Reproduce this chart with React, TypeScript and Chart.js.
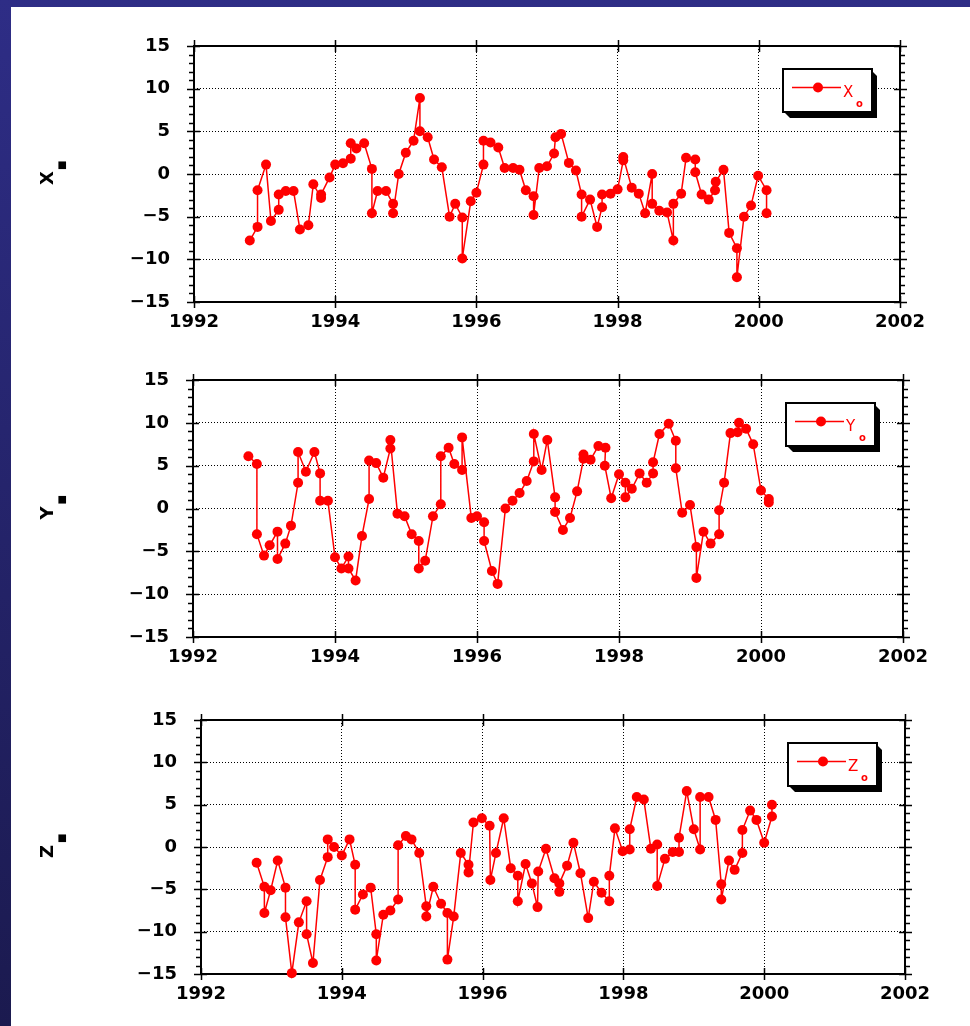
import { useEffect, useRef } from "react";
import { Chart, registerables } from "chart.js";

Chart.register(...registerables);

// ---------- data ----------
const xTimes = [
  1992.79, 1992.9, 1992.9, 1993.02, 1993.09, 1993.2, 1993.2, 1993.3, 1993.41, 1993.5,
  1993.62, 1993.69, 1993.8, 1993.8, 1993.92, 1994.0, 1994.11, 1994.22, 1994.22, 1994.3,
  1994.41, 1994.52, 1994.52, 1994.6, 1994.72, 1994.82, 1994.82, 1994.9, 1995.0, 1995.11,
  1995.2, 1995.2, 1995.31, 1995.4, 1995.51, 1995.62, 1995.7, 1995.8, 1995.8, 1995.92,
  1996.0, 1996.1, 1996.1, 1996.2, 1996.31, 1996.4, 1996.52, 1996.61, 1996.7, 1996.81,
  1996.81, 1996.89, 1997.0, 1997.1, 1997.12, 1997.2, 1997.31, 1997.41, 1997.49, 1997.49,
  1997.61, 1997.71, 1997.78, 1997.78, 1997.9, 1998.0, 1998.08, 1998.08, 1998.2, 1998.3,
  1998.39, 1998.49, 1998.49, 1998.59, 1998.7, 1998.79, 1998.79, 1998.9, 1998.97, 1999.1,
  1999.1, 1999.19, 1999.29, 1999.38, 1999.39, 1999.5, 1999.58, 1999.69, 1999.69, 1999.79,
  1999.89, 1999.99, 2000.11, 2000.11,
];
const xValues = [
  -7.8, -6.2, -1.9, 1.1, -5.5, -4.2, -2.4, -2.0, -2.0, -6.5,
  -6.0, -1.2, -2.8, -2.4, -0.4, 1.1, 1.25, 1.8, 3.6, 3.0,
  3.6, 0.6, -4.6, -2.0, -2.0, -3.5, -4.6, 0.0, 2.5, 3.9,
  8.9, 5.0, 4.3, 1.7, 0.8, -5.0, -3.5, -5.1, -9.9, -3.2,
  -2.2, 1.1, 3.9, 3.7, 3.1, 0.7, 0.7, 0.5, -1.9, -2.6,
  -4.8, 0.7, 0.9, 2.4, 4.3, 4.7, 1.3, 0.4, -2.4, -5.0,
  -3.0, -6.2, -3.9, -2.4, -2.3, -1.8, 1.6, 2.0, -1.6, -2.3,
  -4.6, 0.0, -3.5, -4.3, -4.5, -7.8, -3.5, -2.3, 1.9, 1.7,
  0.2, -2.4, -3.0, -1.9, -0.9, 0.5, -6.9, -8.7, -12.1, -5.0,
  -3.7, -0.2, -1.9, -4.6,
];

const yTimes = [
  1992.78, 1992.9, 1992.9, 1993.0, 1993.08, 1993.19, 1993.19, 1993.3, 1993.38, 1993.48,
  1993.48, 1993.59, 1993.71, 1993.79, 1993.79, 1993.9, 1994.0, 1994.09, 1994.19, 1994.19,
  1994.29, 1994.38, 1994.48, 1994.48, 1994.58, 1994.68, 1994.78, 1994.78, 1994.88, 1994.98,
  1995.08, 1995.18, 1995.18, 1995.27, 1995.38, 1995.49, 1995.49, 1995.6, 1995.68, 1995.79,
  1995.79, 1995.92, 1996.0, 1996.1, 1996.1, 1996.21, 1996.29, 1996.4, 1996.5, 1996.6,
  1996.7, 1996.8, 1996.8, 1996.91, 1996.99, 1997.1, 1997.1, 1997.21, 1997.31, 1997.41,
  1997.5, 1997.5, 1997.6, 1997.71, 1997.81, 1997.8, 1997.89, 1998.0, 1998.09, 1998.09,
  1998.18, 1998.29, 1998.39, 1998.48, 1998.48, 1998.57, 1998.7, 1998.8, 1998.8, 1998.89,
  1999.0, 1999.09, 1999.09, 1999.19, 1999.29, 1999.41, 1999.41, 1999.48, 1999.57, 1999.67,
  1999.69, 1999.79, 1999.89, 2000.0, 2000.11, 2000.11,
];
const yValues = [
  6.1, 5.2, -3.0, -5.5, -4.3, -2.7, -5.9, -4.1, -2.0, 3.0,
  6.6, 4.3, 6.6, 4.1, 0.9, 0.9, -5.7, -7.0, -5.6, -7.0,
  -8.4, -3.2, 1.1, 5.6, 5.3, 3.6, 7.0, 8.0, -0.6, -0.9,
  -3.0, -3.8, -7.0, -6.1, -0.9, 0.5, 6.1, 7.1, 5.2, 4.5,
  8.3, -1.1, -0.9, -1.6, -3.8, -7.3, -8.8, 0.0, 0.9, 1.8,
  3.2, 5.5, 8.7, 4.5, 8.0, 1.3, -0.4, -2.5, -1.1, 2.0,
  5.8, 6.3, 5.7, 7.3, 7.1, 5.0, 1.2, 4.0, 3.0, 1.3,
  2.3, 4.1, 3.0, 4.1, 5.4, 8.7, 9.9, 7.9, 4.7, -0.5,
  0.4, -4.5, -8.1, -2.7, -4.1, -3.0, -0.2, 3.0, 8.8, 8.9,
  10.0, 9.3, 7.5, 2.1, 1.1, 0.7,
];

const zTimes = [
  1992.79, 1992.9, 1992.9, 1992.99, 1993.09, 1993.2, 1993.2, 1993.29, 1993.39, 1993.5,
  1993.5, 1993.59, 1993.69, 1993.8, 1993.8, 1993.89, 1994.0, 1994.11, 1994.19, 1994.19,
  1994.3, 1994.41, 1994.49, 1994.49, 1994.59, 1994.69, 1994.8, 1994.8, 1994.91, 1994.99,
  1995.1, 1995.2, 1995.2, 1995.3, 1995.41, 1995.5, 1995.5, 1995.59, 1995.69, 1995.8,
  1995.8, 1995.87, 1995.99, 1996.1, 1996.11, 1996.19, 1996.3, 1996.4, 1996.5, 1996.5,
  1996.61, 1996.7, 1996.78, 1996.79, 1996.9, 1997.02, 1997.09, 1997.09, 1997.2, 1997.29,
  1997.39, 1997.5, 1997.58, 1997.69, 1997.8, 1997.8, 1997.88, 1997.99, 1998.09, 1998.09,
  1998.19, 1998.29, 1998.39, 1998.48, 1998.48, 1998.59, 1998.7, 1998.79, 1998.79, 1998.9,
  1999.0, 1999.09, 1999.09, 1999.21, 1999.31, 1999.39, 1999.39, 1999.5, 1999.58, 1999.69,
  1999.69, 1999.8, 1999.89, 2000.0, 2000.11, 2000.11,
];
const zValues = [
  -1.85, -4.7, -7.8, -5.1, -1.6, -4.8, -8.3, -14.9, -8.9, -6.4,
  -10.3, -13.7, -3.9, -1.2, 0.9, 0.0, -1.0, 0.9, -2.1, -7.4,
  -5.6, -4.8, -10.3, -13.4, -8.0, -7.5, -6.2, 0.2, 1.3, 0.9,
  -0.7, -7.0, -8.2, -4.7, -6.7, -7.8, -13.3, -8.2, -0.7, -2.1,
  -3.0, 2.9, 3.4, 2.5, -3.9, -0.7, 3.4, -2.5, -3.4, -6.4,
  -2.0, -4.3, -7.1, -2.9, -0.2, -3.7, -5.3, -4.3, -2.2, 0.5,
  -3.1, -8.4, -4.1, -5.4, -6.4, -3.4, 2.2, -0.5, -0.3, 2.1,
  5.9, 5.6, -0.2, 0.3, -4.6, -1.4, -0.6, -0.6, 1.1, 6.6,
  2.1, -0.3, 5.9, 5.9, 3.2, -4.4, -6.2, -1.6, -2.7, -0.7,
  2.0, 4.3, 3.2, 0.5, 3.6, 5.0,
];

const yearTicks = [1992, 1994, 1996, 1998, 2000, 2002];
const valueTicks = [-15, -10, -5, 0, 5, 10, 15];
const minorValueTicks = Array.from({ length: 31 }, (_, i) => i - 15);

// ---------- layout (pixel placement of each panel's plot area) ----------
const panels = [
  { name: "X", times: xTimes, values: xValues, L: 194, R: 900, T: 46, B: 302 },
  { name: "Y", times: yTimes, values: yValues, L: 193, R: 903, T: 380, B: 637 },
  { name: "Z", times: zTimes, values: zValues, L: 201, R: 905, T: 720, B: 974 },
];

const RED = "#ff0000";
const TICK_FONT = { family: "DejaVu Sans", weight: "bold" as const, size: 18 };
const Y_AXIS_W = 70;
const X_AXIS_H = 40;
const PAD_TOP = 40;

const framePlugin = {
  id: "frame",
  beforeDatasetsDraw(chart: any) {
    const { ctx, chartArea: a, scales } = chart;
    ctx.save();
    ctx.strokeStyle = "#000";
    ctx.lineWidth = 2;
    ctx.setLineDash([]);
    ctx.strokeRect(a.left, a.top, a.right - a.left, a.bottom - a.top);
    ctx.lineWidth = 1.5;
    ctx.beginPath();
    for (const v of minorValueTicks) {
      const y = Math.round(scales.y.getPixelForValue(v)) + 0.5;
      const major = valueTicks.includes(v);
      ctx.moveTo(a.left - (major ? 7 : 5), y);
      ctx.lineTo(a.left + (major ? 6 : 1), y);
      ctx.moveTo(a.right - (major ? 6 : 1), y);
      ctx.lineTo(a.right + (major ? 7 : 5), y);
    }
    for (const v of yearTicks) {
      const x = Math.round(scales.x.getPixelForValue(v)) + 0.5;
      ctx.moveTo(x, a.bottom - 6);
      ctx.lineTo(x, a.bottom + 6);
      ctx.moveTo(x, a.top - 6);
      ctx.lineTo(x, a.top + 6);
    }
    ctx.stroke();
    ctx.restore();
  },
};

const legendPlugin = {
  id: "boxLegend",
  afterDraw(chart: any) {
    const { ctx, chartArea: a } = chart;
    const label = chart.data.datasets[0].label as string;
    const w = 89;
    const h = 43;
    const bx = a.right - 117;
    const by = a.top + 23;
    ctx.save();
    // shadow
    ctx.fillStyle = "#000";
    ctx.beginPath();
    ctx.moveTo(bx + w, by + 2);
    ctx.lineTo(bx + w + 5, by + 7);
    ctx.lineTo(bx + w + 5, by + h + 6);
    ctx.lineTo(bx + 7, by + h + 6);
    ctx.lineTo(bx + 1, by + h);
    ctx.closePath();
    ctx.fill();
    ctx.fillStyle = "#fff";
    ctx.fillRect(bx, by, w, h);
    ctx.strokeStyle = "#000";
    ctx.lineWidth = 2;
    ctx.strokeRect(bx, by, w, h);
    // sample line + marker
    ctx.strokeStyle = RED;
    ctx.lineWidth = 1.5;
    ctx.beginPath();
    ctx.moveTo(bx + 9, by + 18.5);
    ctx.lineTo(bx + 58, by + 18.5);
    ctx.stroke();
    ctx.fillStyle = RED;
    ctx.beginPath();
    ctx.arc(bx + 35, by + 18.5, 5, 0, Math.PI * 2);
    ctx.fill();
    // text
    ctx.font = "15px 'DejaVu Sans'";
    ctx.textAlign = "left";
    ctx.textBaseline = "alphabetic";
    ctx.fillText(label, bx + 60, by + 28);
    ctx.font = "bold 10px 'DejaVu Sans'";
    ctx.fillText("o", bx + 73, by + 38);
    ctx.restore();
  },
};

const axisLabelPlugin = {
  id: "axisLabel",
  afterDraw(chart: any) {
    const { ctx, chartArea: a } = chart;
    const label = chart.data.datasets[0].label as string;
    const mid = (a.top + a.bottom) / 2;
    ctx.save();
    ctx.translate(53, mid + 11);
    ctx.rotate(-Math.PI / 2);
    ctx.fillStyle = "#000";
    ctx.textAlign = "left";
    ctx.textBaseline = "alphabetic";
    ctx.font = "bold 18px 'DejaVu Sans'";
    ctx.fillText(label, 0, 0);
    ctx.font = "bold 10px 'DejaVu Sans'";
    ctx.fillText("■", 15, 12);
    ctx.restore();
  },
};

function fmtValue(v: number) {
  return v < 0 ? "\u2212" + Math.abs(v) : String(v);
}

function Panel({ p }: { p: (typeof panels)[number] }) {
  const ref = useRef<HTMLCanvasElement>(null);
  const top = p.T - PAD_TOP;
  const H = p.B - p.T + PAD_TOP + X_AXIS_H + 5;

  useEffect(() => {
    const chart = new Chart(ref.current as HTMLCanvasElement, {
      type: "line",
      data: {
        datasets: [
          {
            label: p.name,
            data: p.times.map((t, i) => ({ x: t, y: p.values[i] })),
            borderColor: RED,
            backgroundColor: RED,
            borderWidth: 1.5,
            pointRadius: 5,
            pointHoverRadius: 5,
            pointBorderWidth: 0,
            pointBackgroundColor: RED,
            tension: 0,
            clip: false as any,
          },
        ],
      },
      options: {
        animation: false,
        responsive: false,
        maintainAspectRatio: false,
        devicePixelRatio: 1,
        events: [],
        layout: {
          padding: { left: p.L - Y_AXIS_W, right: 970 - p.R, top: PAD_TOP, bottom: 5 },
        },
        plugins: { legend: { display: false }, tooltip: { enabled: false } },
        scales: {
          x: {
            type: "linear",
            min: yearTicks[0],
            max: yearTicks[yearTicks.length - 1],
            afterBuildTicks: (s: any) => {
              s.ticks = yearTicks.map((v) => ({ value: v }));
            },
            afterFit: (s: any) => {
              s.height = X_AXIS_H;
            },
            ticks: {
              callback: (v: any) => String(v),
              padding: 10,
              color: "#000",
              font: TICK_FONT,
              maxRotation: 0,
              autoSkip: false,
            },
            grid: { color: "#000", lineWidth: 1, drawTicks: false },
            border: { display: false, dash: [1, 2] },
          },
          y: {
            type: "linear",
            min: valueTicks[0],
            max: valueTicks[valueTicks.length - 1],
            afterBuildTicks: (s: any) => {
              s.ticks = valueTicks.map((v) => ({ value: v }));
            },
            afterFit: (s: any) => {
              s.width = Y_AXIS_W;
            },
            ticks: {
              callback: (v: any) => fmtValue(Number(v)),
              padding: 24,
              color: "#000",
              font: TICK_FONT,
              autoSkip: false,
            },
            grid: { color: "#000", lineWidth: 1, drawTicks: false },
            border: { display: false, dash: [1, 2] },
          },
        },
      },
      plugins: [framePlugin, legendPlugin, axisLabelPlugin],
    });
    return () => chart.destroy();
  }, []);

  return (
    <canvas
      ref={ref}
      width={970}
      height={H}
      style={{ position: "absolute", left: 0, top, width: 970, height: H }}
    />
  );
}

export default function App() {
  return (
    <div
      style={{
        position: "absolute",
        left: 0,
        top: 0,
        width: 970,
        height: 1026,
        overflow: "hidden",
        background: "linear-gradient(to bottom, #2e2d86, #1b1a4f)",
      }}
    >
      <div
        style={{
          position: "absolute",
          left: 11,
          top: 7,
          right: 0,
          bottom: 0,
          background: "#fff",
        }}
      />
      {panels.map((p) => (
        <Panel key={p.name} p={p} />
      ))}
    </div>
  );
}
